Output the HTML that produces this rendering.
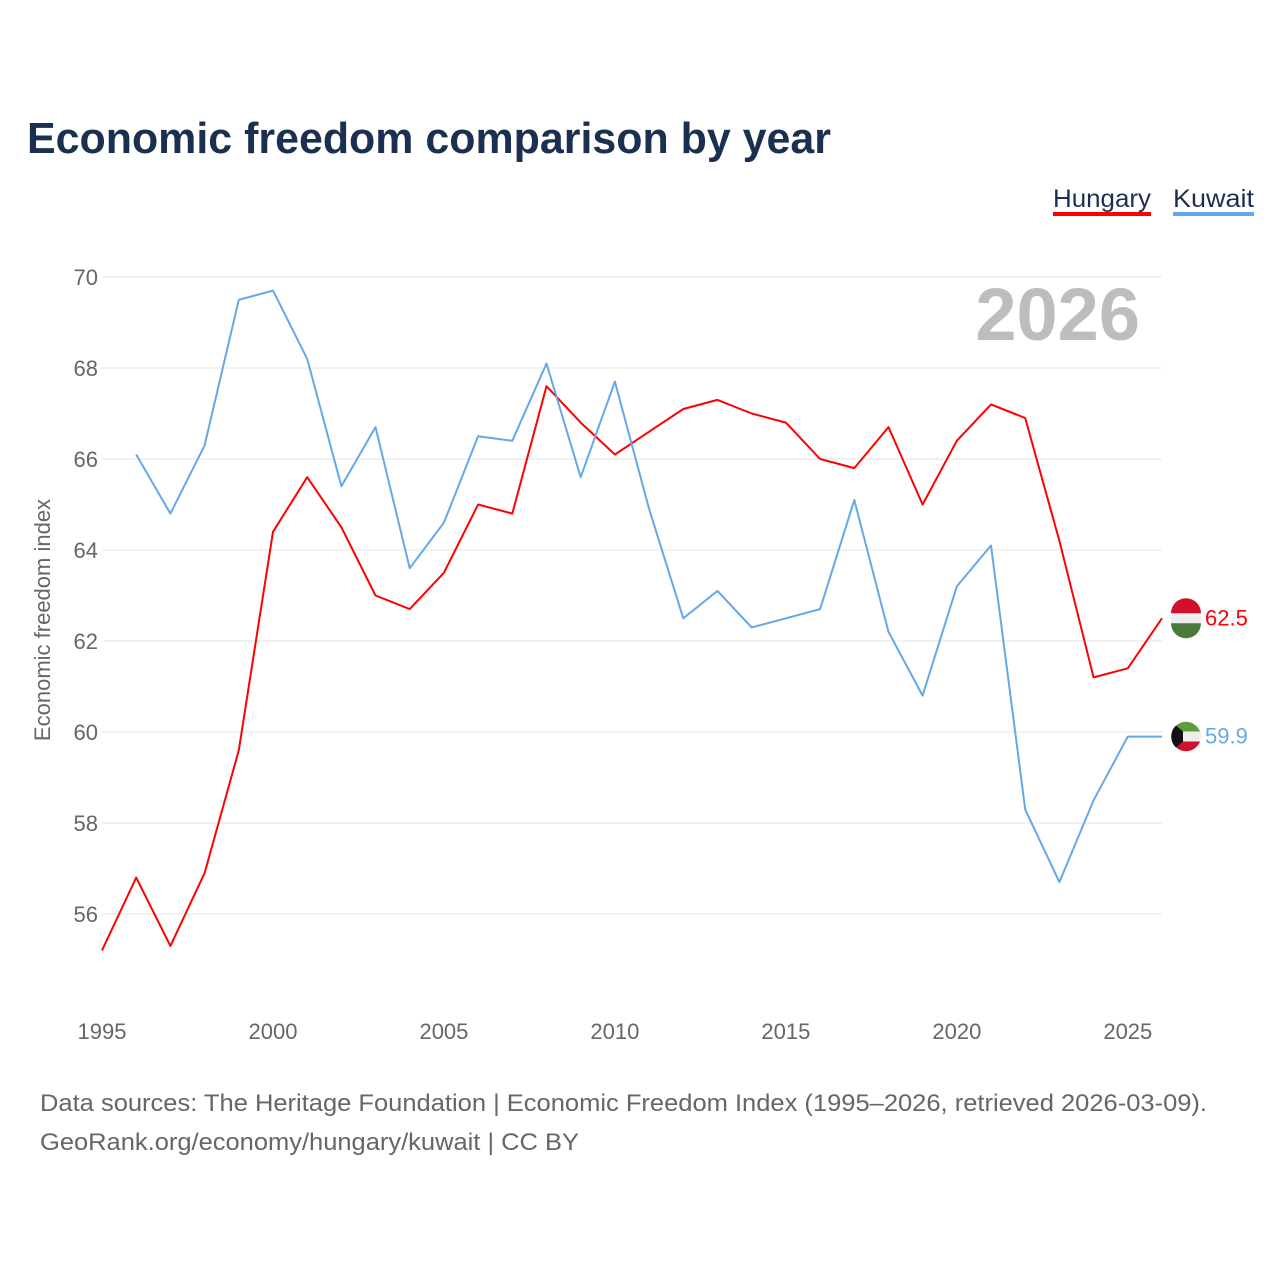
<!DOCTYPE html>
<html><head><meta charset="utf-8">
<style>
body{margin:0;background:#fff;font-family:"Liberation Sans",sans-serif;}
#wrap{position:relative;width:1280px;height:1280px;overflow:hidden;}
</style></head>
<body>
<div id="wrap">
<svg id="chart" width="1280" height="1280">
<text x="27" y="153" font-size="44" font-weight="bold" fill="#1b3050" textLength="804" lengthAdjust="spacingAndGlyphs">Economic freedom comparison by year</text>
<g>
<text x="1053" y="207" font-size="25" fill="#1b3050" textLength="98" lengthAdjust="spacingAndGlyphs">Hungary</text>
<rect x="1053" y="212" width="98" height="4" fill="#ff0000"/>
<text x="1173" y="207" font-size="25" fill="#1b3050" textLength="81" lengthAdjust="spacingAndGlyphs">Kuwait</text>
<rect x="1173" y="212" width="81" height="4" fill="#64a8ea"/>
</g>
<text x="1140" y="340" font-size="74" font-weight="bold" fill="#bdbdbd" text-anchor="end">2026</text>
<text transform="translate(50,620) rotate(-90)" font-size="22" fill="#666" text-anchor="middle">Economic freedom index</text>
<g id="grid"></g><g id="lines"></g>
<text x="40" y="1111" font-size="24" fill="#666" textLength="1167" lengthAdjust="spacingAndGlyphs">Data sources: The Heritage Foundation | Economic Freedom Index (1995–2026, retrieved 2026-03-09).</text>
<text x="40" y="1150" font-size="24" fill="#666" textLength="539" lengthAdjust="spacingAndGlyphs">GeoRank.org/economy/hungary/kuwait | CC BY</text>
</svg>
</div>
<script>
const years=[1995,1996,1997,1998,1999,2000,2001,2002,2003,2004,2005,2006,2007,2008,2009,2010,2011,2012,2013,2014,2015,2016,2017,2018,2019,2020,2021,2022,2023,2024,2025,2026];
const hungary=[55.2,56.8,55.3,56.9,59.6,64.4,65.6,64.5,63.0,62.7,63.5,65.0,64.8,67.6,66.8,66.1,66.6,67.1,67.3,67.0,66.8,66.0,65.8,66.7,65.0,66.4,67.2,66.9,64.2,61.2,61.4,62.5];
const kuwait=[null,66.1,64.8,66.3,69.5,69.7,68.2,65.4,66.7,63.6,64.6,66.5,66.4,68.1,65.6,67.7,64.9,62.5,63.1,62.3,62.5,62.7,65.1,62.2,60.8,63.2,64.1,58.3,56.7,58.5,59.9,59.9];
const yTicks=[56,58,60,62,64,66,68,70];
const xTicks=[1995,2000,2005,2010,2015,2020,2025];
const NS="http://www.w3.org/2000/svg";
const x=v=>102+(v-1995)*(1162-102)/31;
const y=v=>277+(70-v)*(914-277)/14;
function mk(tag,attrs,parent,text){const e=document.createElementNS(NS,tag);for(const k in attrs)e.setAttribute(k,attrs[k]);if(text!=null)e.textContent=text;parent.appendChild(e);return e;}
const grid=document.getElementById('grid'),lines=document.getElementById('lines');
yTicks.forEach(t=>{
 const l=mk('line',{x1:102,x2:1162,y1:y(t),y2:y(t),stroke:'#e6e6e6','stroke-width':1},grid);
 
 
 const tx=mk('text',{x:98,y:y(t)+8,'font-size':22,fill:'#666','text-anchor':'end'},grid,String(t));
 
 
});
xTicks.forEach(t=>{
 const tx=mk('text',{x:x(t),y:1039,'font-size':22,fill:'#666','text-anchor':'middle'},grid,String(t));
 
 
});
function series(vals,color,name){
 let d='';vals.forEach((v,i)=>{if(v==null)return;d+=(d?'L':'M')+x(years[i]).toFixed(1)+','+y(v).toFixed(1);});
 const p=mk('path',{d:d,fill:'none',stroke:color,'stroke-width':2,'stroke-linejoin':'round'},lines);
 
 
 const last=vals[vals.length-1];
 const tx=mk('text',{x:1205,y:y(last)+7,'font-size':22,fill:color},lines,last.toFixed(1));
 
 
 return y(last);
}
const hy=series(hungary,'#ff0000','hungary');
const ky=series(kuwait,'#64a8ea','kuwait');
function flagH(cy){const g=mk('g',{},lines);
 
 
 mk('circle',{cx:1186,cy:cy,r:15,fill:'#eee'},g);
 mk('path',{d:`M1171,${cy-5} A15,15 0 0 1 1201,${cy-5} Z`,fill:'#d2102b'},g);
 mk('path',{d:`M1171,${cy+5} A15,15 0 0 0 1201,${cy+5} Z`,fill:'#4a7a3a'},g);}
function flagK(cy){const g=mk('g',{},lines);
 
 
 mk('circle',{cx:1186,cy:cy,r:15,fill:'#eee'},g);
 mk('path',{d:`M1172,${cy-5} A15,15 0 0 1 1200,${cy-5} Z`,fill:'#5e9b3a'},g);
 mk('path',{d:`M1172,${cy+5} A15,15 0 0 0 1200,${cy+5} Z`,fill:'#d2102b'},g);
 mk('path',{d:`M1176,${cy-11} L1183,${cy-5} L1183,${cy+5} L1176,${cy+11} A15,15 0 0 1 1176,${cy-11} Z`,fill:'#111'},g);}
flagH(hy);flagK(ky);
</script>
</body></html>
